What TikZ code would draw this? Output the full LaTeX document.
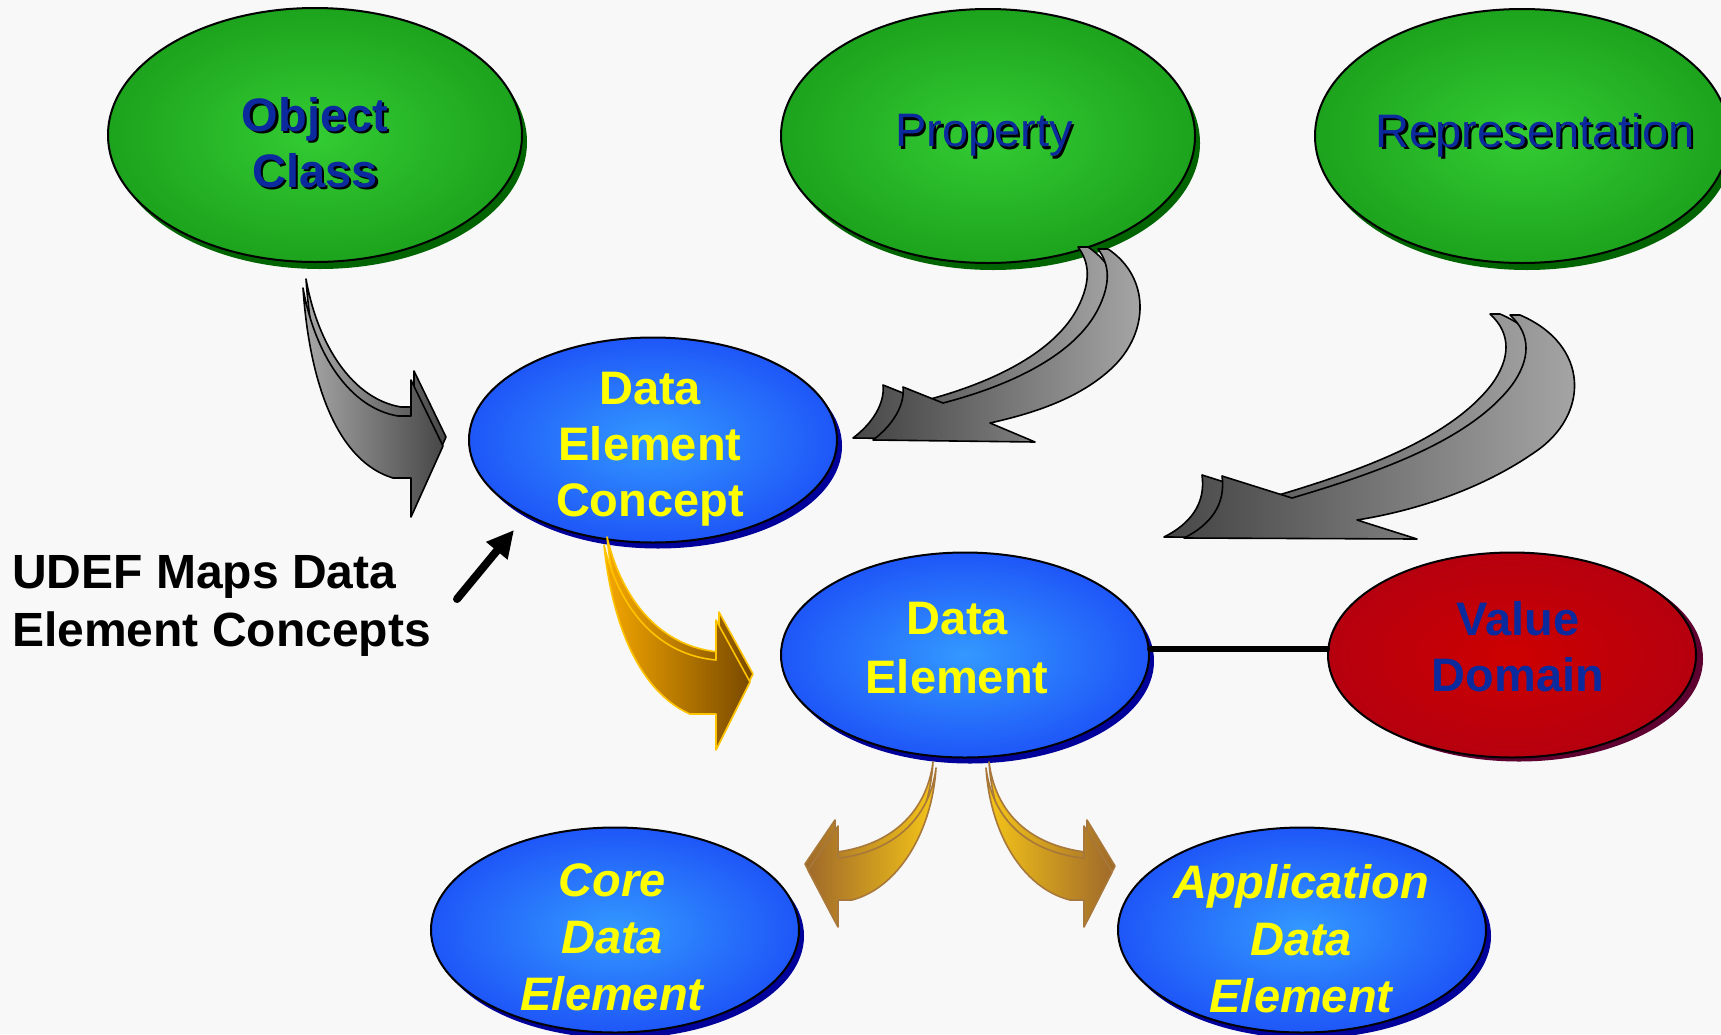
\documentclass[tikz,border=0pt]{standalone}
\usepackage{fontspec}
\setmainfont{Liberation Sans}
\usetikzlibrary{shapes.geometric,shadows,arrows.meta}

\definecolor{bgc}{HTML}{F8F8F8}
\definecolor{gcen}{HTML}{33CC33}
\definecolor{gedge}{HTML}{077A07}
\definecolor{gshad}{HTML}{006400}
\definecolor{bcen}{HTML}{3399FF}
\definecolor{bedge}{HTML}{0A14F0}
\definecolor{bshad}{HTML}{00009A}
\definecolor{rcen}{HTML}{CC0000}
\definecolor{redge}{HTML}{A0001E}
\definecolor{rshad}{HTML}{5E0030}
\definecolor{navy}{HTML}{0B2A9E}
\definecolor{yel}{HTML}{FFFF00}
\definecolor{grayL}{HTML}{A8A8A8}
\definecolor{grayD}{HTML}{474747}
\definecolor{orL}{HTML}{F5A800}
\definecolor{orD}{HTML}{7A4A00}
\definecolor{orLine}{HTML}{FFC400}
\definecolor{goldL}{HTML}{F5C518}
\definecolor{goldD}{HTML}{A06A2A}
\definecolor{goldLine}{HTML}{A8783A}

\pgfdeclareradialshading{greenball}{\pgfpoint{0bp}{0bp}}{color(0bp)=(gcen); color(50bp)=(gedge)}
\pgfdeclareradialshading{blueball}{\pgfpoint{0bp}{0bp}}{color(0bp)=(bcen); color(50bp)=(bedge)}
\pgfdeclareradialshading{redball}{\pgfpoint{0bp}{0bp}}{color(0bp)=(rcen); color(50bp)=(redge)}

\newcommand\shd[1]{\makebox[0pt][l]{\hspace{2.5pt}\raisebox{-2.5pt}{\color{black}#1}}#1}

\tikzset{
  oval/.style={ellipse, draw=black, line width=2pt, inner sep=0pt, shade},
  greenoval/.style={oval, shading=greenball, minimum width=414pt, minimum height=254pt,
    drop shadow={shadow xshift=5pt, shadow yshift=-7pt, fill=gshad, opacity=1}},
  blueoval/.style={oval, shading=blueball, minimum width=368pt, minimum height=205pt,
    drop shadow={shadow xshift=5pt, shadow yshift=-6pt, fill=bshad, opacity=1}},
  redoval/.style={oval, shading=redball, minimum width=368pt, minimum height=205pt,
    drop shadow={shadow xshift=7pt, shadow yshift=-4pt, fill=rshad, opacity=1}},
  txt/.style={inner sep=0pt, align=center, anchor=north},
  bigbold/.style={txt, font=\fontsize{47}{56}\selectfont\bfseries},
  bigreg/.style={txt, font=\fontsize{47}{56}\selectfont},
  bigital/.style={txt, font=\fontsize{47}{57}\selectfont\bfseries\itshape},
  grayarrow/.style={draw=black, line width=1.6pt, line join=round},
  orarrow/.style={draw=orLine, line width=1.6pt, line join=round, left color=orL, right color=orD},
  goldarrow/.style={draw=goldLine, line width=1.6pt, line join=round},
}

\begin{document}
\begin{tikzpicture}[x=1pt, y=-1pt]
\useasboundingbox (0,0) rectangle (1721,1034);
\fill[bgc] (0,0) rectangle (1721,1034);

% ellipses
\node[greenoval] (oc) at (315,135) {};
\node[greenoval] (prop) at (988,136) {};
\node[greenoval] (rep) at (1522,136) {};
\node[blueoval] (dec) at (653,440) {};
\node[blueoval] (de) at (965,655) {};
\node[redoval] (vd) at (1512,655) {};
\node[blueoval] (cde) at (615,930) {};
\node[blueoval] (ade) at (1302,930) {};

% texts
\node[bigbold, text=navy] (oc-t) at (315,97) {\shd{Object}\\\shd{Class}};
\node[bigreg, text=navy] (prop-t) at (984,114) {\shd{Property}};
\node[bigreg, text=navy] (rep-t) at (1535,113) {\shd{Representation}};
\node[bigbold, text=yel] (dec-t) at (650,372) {Data\\Element\\Concept};
\node[bigbold, text=yel, font=\fontsize{47}{59}\selectfont\bfseries] (de-t) at (957,602) {Data\\Element};
\node[bigbold, text=navy] (vd-t) at (1518,601) {Value\\Domain};
\node[bigital, text=yel] (cde-t) at (612,863) {Core\\Data\\Element};
\node[bigital, text=yel] (ade-t) at (1301,864) {Application\\Data\\Element};

\node[inner sep=0pt, anchor=north west, align=left, font=\fontsize{48}{58}\selectfont\bfseries] (udef) at (12,555) {UDEF Maps Data\\Element Concepts};

% connector DE -- VD
\draw[line width=6pt, line cap=round] ([yshift=6pt]de.east) -- ([yshift=6pt]vd.west);

% pointer arrow
\coordinate (ua-s) at (457,599);
\coordinate (ua-e) at (514,530);
\draw[line width=8pt, line cap=round, -{Triangle[length=27pt, width=26pt]}] (ua-s) -- (ua-e);

% Arrow A : Object Class -> DEC
\begin{scope}[shift={(3,-9)}]
\shade[grayarrow, left color=grayL, right color=grayD]
 (303,288) .. controls (315,355) and (350,408) .. (398,416) -- (411,416) -- (411,380) -- (443,446) -- (411,517) -- (411,478) -- (393,478) .. controls (340,462) and (310,390) .. (303,288) -- cycle;
\end{scope}
\shade[grayarrow, left color=grayL, right color=grayD]
 (303,288) .. controls (315,355) and (350,408) .. (398,416) -- (411,416) -- (411,380) -- (443,446) -- (411,517) -- (411,478) -- (393,478) .. controls (340,462) and (310,390) .. (303,288) -- cycle;

% Arrow B : Property -> DEC
\begin{scope}[shift={(-20,-2)}]
\shade[grayarrow, left color=grayD, right color=grayL]
 (1098,249) -- (1108,249) .. controls (1150,277) and (1150,332) .. (1112,368) .. controls (1080,398) and (1035,413) .. (990,423) -- (1035,442) -- (873,440) .. controls (893,425) and (905,405) .. (903,387) -- (943,403) .. controls (1020,383) and (1080,350) .. (1100,305) .. controls (1110,283) and (1110,265) .. (1098,249) -- cycle;
\end{scope}
\shade[grayarrow, left color=grayD, right color=grayL]
 (1098,249) -- (1108,249) .. controls (1150,277) and (1150,332) .. (1112,368) .. controls (1080,398) and (1035,413) .. (990,423) -- (1035,442) -- (873,440) .. controls (893,425) and (905,405) .. (903,387) -- (943,403) .. controls (1020,383) and (1080,350) .. (1100,305) .. controls (1110,283) and (1110,265) .. (1098,249) -- cycle;

% Arrow C : Representation -> DE
\begin{scope}[shift={(-20,-1)}]
\shade[grayarrow, left color=grayD, right color=grayL]
 (1510,315) -- (1520,315) .. controls (1590,345) and (1590,415) .. (1535,452) .. controls (1485,487) and (1420,510) .. (1357,520) -- (1417,539) -- (1184,538) .. controls (1210,525) and (1226,505) .. (1222,476) -- (1292,498) .. controls (1380,472) and (1470,440) .. (1512,385) .. controls (1530,360) and (1532,335) .. (1510,315) -- cycle;
\end{scope}
\shade[grayarrow, left color=grayD, right color=grayL]
 (1510,315) -- (1520,315) .. controls (1590,345) and (1590,415) .. (1535,452) .. controls (1485,487) and (1420,510) .. (1357,520) -- (1417,539) -- (1184,538) .. controls (1210,525) and (1226,505) .. (1222,476) -- (1292,498) .. controls (1380,472) and (1470,440) .. (1512,385) .. controls (1530,360) and (1532,335) .. (1510,315) -- cycle;

% Arrow D : DEC -> DE
\begin{scope}[shift={(3,-8)}]
\shade[orarrow]
 (604,545) .. controls (620,612) and (660,655) .. (716,660) -- (716,620) -- (750,682) -- (716,750) -- (716,714) -- (690,714) .. controls (640,692) and (612,625) .. (604,545) -- cycle;
\end{scope}
\shade[orarrow]
 (604,545) .. controls (620,612) and (660,655) .. (716,660) -- (716,620) -- (750,682) -- (716,750) -- (716,714) -- (690,714) .. controls (640,692) and (612,625) .. (604,545) -- cycle;

% Arrow E : DE -> Core
\begin{scope}[shift={(-3,-6)}]
\shade[goldarrow, left color=goldD, right color=goldL]
 (936,768) .. controls (930,815) and (898,850) .. (840,858) -- (838,858) -- (838,826) -- (808,870) -- (838,927) -- (838,900) -- (852,900) .. controls (898,888) and (932,832) .. (936,768) -- cycle;
\end{scope}
\shade[goldarrow, left color=goldD, right color=goldL]
 (936,768) .. controls (930,815) and (898,850) .. (840,858) -- (838,858) -- (838,826) -- (808,870) -- (838,927) -- (838,900) -- (852,900) .. controls (898,888) and (932,832) .. (936,768) -- cycle;

% Arrow F : DE -> Application
\begin{scope}[shift={(3,-6)}]
\shade[goldarrow, left color=goldL, right color=goldD]
 (986,768) .. controls (992,815) and (1022,850) .. (1082,858) -- (1084,858) -- (1084,826) -- (1112,872) -- (1084,927) -- (1084,900) -- (1070,900) .. controls (1022,888) and (990,832) .. (986,768) -- cycle;
\end{scope}
\shade[goldarrow, left color=goldL, right color=goldD]
 (986,768) .. controls (992,815) and (1022,850) .. (1082,858) -- (1084,858) -- (1084,826) -- (1112,872) -- (1084,927) -- (1084,900) -- (1070,900) .. controls (1022,888) and (990,832) .. (986,768) -- cycle;

\end{tikzpicture}
\end{document}
